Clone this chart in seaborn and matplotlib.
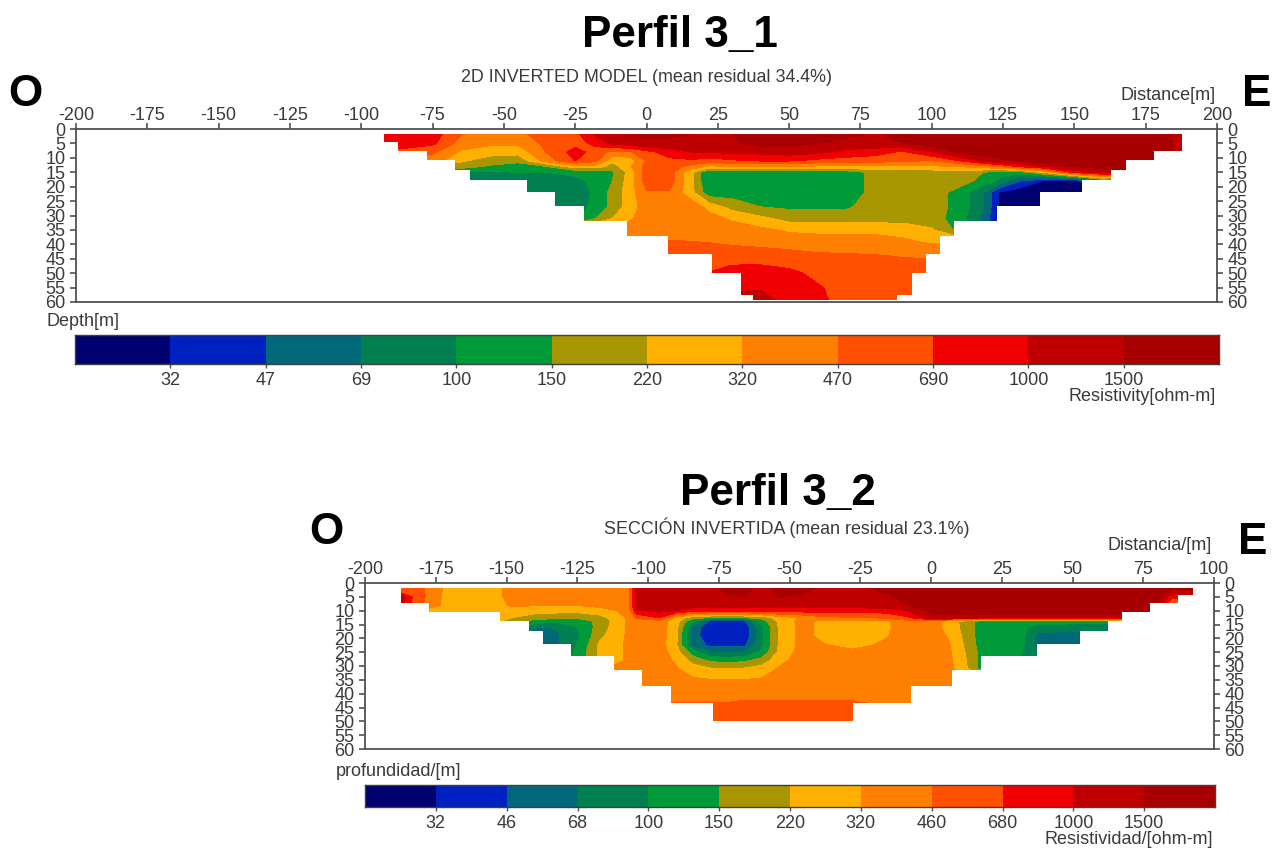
import numpy as np
import seaborn as sns
import matplotlib
matplotlib.use("Agg")
import matplotlib.pyplot as plt
from matplotlib.colors import ListedColormap
from matplotlib.patches import Polygon

# band colours shared by both sections
band_colors = ["#000070", "#0020C0", "#006878", "#008050", "#009A38", "#A89600",
               "#FFB000", "#FF8000", "#FF5000", "#F00000", "#C00000", "#A80000"]

levels_1 = [10, 32, 47, 69, 100, 150, 220, 320, 470, 690, 1000, 1500, 5000]
levels_2 = [10, 32, 46, 68, 100, 150, 220, 320, 460, 680, 1000, 1500, 5000]
cbar_labels_1 = ["32", "47", "69", "100", "150", "220", "320", "470", "690", "1000", "1500"]
cbar_labels_2 = ["32", "46", "68", "100", "150", "220", "320", "460", "680", "1000", "1500"]

# Perfil 3_1: resistivity read by eye, one list per depth
dist_1 = [-95, -85, -75, -65, -55, -45, -35, -25, -18, -12, -6, 0, 8, 16, 22, 30, 40, 50, 60, 70, 80,
          90, 100, 110, 118, 124, 130, 140, 150, 160, 170, 180, 190]
depth_1 = [1.7, 5, 8, 11, 13, 15, 18, 22, 27, 31, 35, 39, 44, 50, 55, 60]
r1_d01 = [600, 830, 830, 480, 400, 400, 650, 620, 1050, 1300, 1500, 1600, 1700, 1500, 1500, 1500, 1800, 1900, 1900, 1700, 1400, 1800, 1900, 1900, 1900, 1900, 1900, 1900, 1900, 1900, 1900, 1900, 1100]
r1_d05 = [830, 830, 750, 400, 350, 350, 520, 600, 750, 1100, 1200, 1400, 1300, 1300, 1300, 1400, 1700, 1700, 1500, 1300, 1300, 1500, 1800, 1900, 1900, 1900, 1900, 1900, 1900, 1900, 1900, 1900, 1100]
r1_d08 = [600, 600, 500, 300, 250, 250, 480, 800, 600, 420, 450, 600, 850, 1000, 1000, 1100, 1100, 1200, 1100, 900, 800, 650, 1000, 1700, 1900, 1900, 1900, 1900, 1900, 1900, 1900, 1900, 1100]
r1_d11 = [400, 400, 400, 230, 190, 170, 380, 700, 520, 250, 250, 480, 620, 650, 580, 650, 720, 720, 620, 580, 560, 500, 470, 700, 1100, 1400, 1600, 1900, 1900, 1900, 1900, 1900, 1900]
r1_d13 = [190, 190, 190, 190, 140, 120, 150, 280, 280, 180, 300, 550, 570, 400, 300, 310, 320, 320, 300, 300, 300, 290, 300, 330, 400, 500, 700, 1100, 1500, 1700, 1800, 1900, 1900]
r1_d15 = [90, 90, 90, 90, 95, 100, 100, 110, 110, 140, 250, 570, 570, 230, 100, 120, 120, 120, 120, 120, 170, 180, 180, 180, 150, 120, 120, 250, 800, 1200, 1500, 1900, 1900]
r1_d18 = [60, 60, 60, 60, 80, 85, 90, 90, 110, 150, 260, 560, 570, 230, 100, 120, 120, 120, 120, 120, 170, 190, 190, 180, 130, 90, 50, 30, 28, 100, 28, 28, 28]
r1_d22 = [75, 75, 75, 75, 75, 75, 85, 85, 105, 170, 265, 450, 450, 240, 115, 125, 125, 125, 125, 120, 170, 190, 190, 125, 70, 30, 26, 26, 26, 26, 26, 26, 26]
r1_d27 = [85, 85, 85, 85, 85, 85, 85, 85, 110, 170, 260, 390, 390, 400, 280, 190, 150, 140, 140, 140, 185, 190, 190, 125, 70, 30, 26, 26, 26, 26, 26, 26, 26]
r1_d31 = [90, 90, 90, 90, 90, 90, 90, 90, 145, 220, 300, 390, 390, 390, 370, 300, 240, 190, 185, 185, 185, 185, 180, 120, 60, 30, 26, 26, 26, 26, 26, 26, 26]
r1_d35 = [400] * 15 + [390, 350, 300, 290, 290, 290, 280, 230, 130, 60, 30, 26, 26, 26, 26, 26, 26, 26]
r1_d39 = [420] * 12 + [480, 470, 460, 440, 420, 400, 380, 380, 370, 340, 300] + [300] * 10
r1_d44 = [560] * 12 + [560, 570, 570, 560, 550, 530, 500, 490, 480, 460, 450] + [450] * 10
r1_d50 = [620] * 12 + [620, 620, 700, 830, 850, 760, 620, 600, 590, 580, 570] + [570] * 10
r1_d55 = [830] * 12 + [830, 830, 830, 950, 950, 850, 720, 590, 590, 580, 570] + [570] * 10
r1_d60 = [1150] * 12 + [1150, 1150, 1150, 1150, 1200, 900, 760, 600, 590, 580, 570] + [570] * 10
rows_1 = [r1_d01, r1_d05, r1_d08, r1_d11, r1_d13, r1_d15, r1_d18, r1_d22, r1_d27, r1_d31,
          r1_d35, r1_d39, r1_d44, r1_d50, r1_d55, r1_d60]
# stepped edge of the section
left_x_1 = [-92, -87, -77, -67, -62, -42, -32, -22, -7, 7.7, 23, 33, 37.5]
left_d_1 = [4.4, 7.6, 10.6, 14.2, 17.7, 22, 26.6, 32, 37, 43.4, 50, 57.6, 59.4]
right_x_1 = [187.7, 178, 168, 162.7, 152.7, 138, 122.8, 107.9, 103, 98, 93, 87.8]
right_d_1 = [7.5, 10.6, 14.2, 17.7, 22, 26.6, 32, 37, 43.4, 50, 57.6, 59.4]

# Perfil 3_2
dist_2 = [-190, -183, -177, -170, -155, -148, -140, -132, -124, -117, -107, -104, -96, -90, -84, -78, -72, -66,
          -60, -54, -46, -38, -28, -16, -8, 0, 6, 12, 18, 32, 38, 50, 65, 80, 85, 95]
depth_2 = [1.7, 5, 8, 10, 12.5, 13.8, 16, 19, 22.5, 25, 28, 31, 35, 39, 43, 46, 50]
r2_d01 = [400, 600, 400, 280, 270, 380, 380, 380, 380, 380, 400, 1250, 1300, 1300, 1300, 1300, 1700, 1700, 1300, 1700, 1800, 1400, 1350, 1700, 1800] + [1800] * 11
r2_d05 = [1800, 650, 400, 270, 270, 370, 370, 380, 380, 380, 400, 1250, 1300, 1300, 1300, 1300, 1400, 1500, 1300, 1500, 1400, 1300, 1350, 1400, 1700] + [1800] * 9 + [800, 800]
r2_d08 = [1800, 600, 380, 270, 265, 340, 330, 330, 330, 350, 400, 1250, 1250, 1250, 1220, 1220, 1220, 1220, 1220, 1220, 1220, 1220, 1250, 1300, 1500] + [1800] * 8 + [1500, 400, 400]
r2_d10 = [1800, 600, 270, 265, 260, 260, 260, 250, 250, 280, 350, 950, 1100, 1000] + [800] * 10 + [1000, 1600] + [1800] * 7 + [1500, 400, 400]
r2_d12 = [1800, 600, 265, 265, 265, 220, 180, 170, 170, 190, 340, 500, 700, 280, 180, 150, 150, 150, 170, 260, 330, 420, 450, 500, 650, 1400] + [1300] * 7 + [1300, 400, 400]
r2_d14 = [265, 265, 265, 265, 260, 170, 125, 110, 120, 170, 340, 380, 400, 260, 100, 42, 38, 42, 120, 230, 360, 290, 280, 300, 420, 430, 270, 195, 120, 120, 120, 120, 120, 120, 120, 120]
r2_d16 = [265, 265, 265, 265, 260, 150, 65, 70, 105, 180, 340, 340, 390, 250, 58, 34, 34, 34, 90, 220, 360, 290, 280, 300, 390, 390, 280, 195, 120, 110, 85, 80, 80, 80, 80, 80]
r2_d19 = [265, 265, 265, 265, 200, 120, 60, 65, 100, 200, 340, 340, 390, 240, 55, 34, 34, 34, 90, 220, 360, 290, 280, 310, 390, 390, 310, 200, 120, 115, 60, 57, 57, 57, 57, 57]
r2_d22 = [265, 265, 265, 265, 200, 120, 60, 65, 110, 240, 340, 340, 390, 230, 60, 42, 42, 42, 90, 220, 360, 330, 290, 340, 390, 390, 340, 210, 125, 110, 57, 57, 57, 57, 57, 57]
r2_d25 = [265, 265, 265, 265, 200, 120, 60, 70, 120, 240, 340, 340, 390, 260, 120, 68, 66, 68, 110, 230, 370, 380, 345, 390, 390, 390, 350, 220, 130, 100, 90, 90, 90, 90, 90, 90]
r2_d28 = [265, 265, 265, 265, 200, 120, 70, 90, 120, 240, 340, 340, 390, 300, 190, 140, 130, 140, 170, 280, 380, 390, 390, 390, 390, 390, 360, 230, 130, 100, 90, 90, 90, 90, 90, 90]
r2_d31 = [265, 265, 265, 265, 260, 260, 260, 260, 260, 300, 380, 390, 390, 330, 260, 230, 220, 230, 260, 330, 385, 390, 390, 390, 390, 390, 370, 240, 130, 100, 90, 90, 90, 90, 90, 90]
r2_d35 = [390] * 13 + [370, 340, 325, 325, 325, 330, 360] + [390] * 16
r2_d39 = [390] * 36
r2_d43 = [455] * 17 + [475] * 6 + [400] + [390] * 12
r2_d46 = [570] * 36
r2_d50 = [570] * 36
rows_2 = [r2_d01, r2_d05, r2_d08, r2_d10, r2_d12, r2_d14, r2_d16, r2_d19, r2_d22, r2_d25, r2_d28,
          r2_d31, r2_d35, r2_d39, r2_d43, r2_d46, r2_d50]
left_x_2 = [-187.3, -177.3, -152.3, -142, -137, -127.3, -112, -102, -92, -77]
left_d_2 = [7.4, 10.4, 13.7, 17.5, 22, 26.4, 31.4, 37.2, 43.4, 50]
right_x_2 = [92.7, 87.4, 77.4, 67.4, 62.7, 52.7, 37.5, 17.7, 7.5, -7.2, -27.4]
right_d_2 = [4.4, 7.4, 10.4, 13.7, 17.4, 22, 26.4, 31.5, 37.2, 43.4, 50]

depth_ticks = list(range(0, 65, 5))
text_col = "#3a3a3a"
line_col = "#505050"
W, H = 1272, 848

sns.set_theme(style="white")
plt.rcParams["font.family"] = ["Liberation Sans", "DejaVu Sans"]
plt.rcParams["axes.unicode_minus"] = False
palette = sns.color_palette(band_colors)
band_cmap = ListedColormap(palette)

fig = plt.figure(figsize=(W / 100, H / 100), dpi=100)


def px_axes(x0, y0, x1, y1):
    return fig.add_axes([x0 / W, 1 - y1 / H, (x1 - x0) / W, (y1 - y0) / H])


def px_text(x, y, s, **kw):
    kw.setdefault("color", text_col)
    kw.setdefault("va", "center")
    fig.text(x / W, 1 - y / H, s, **kw)


def outline(left_x, left_d, right_x, right_d, top):
    # walk down the left steps, along the bottom, up the right steps
    pts = [(left_x[0], top)]
    for i in range(len(left_x)):
        pts.append((left_x[i], left_d[i]))
        if i + 1 < len(left_x):
            pts.append((left_x[i + 1], left_d[i]))
    pts.append((right_x[-1], right_d[-1]))
    for i in range(len(right_x) - 1, 0, -1):
        pts.append((right_x[i], right_d[i - 1]))
        pts.append((right_x[i - 1], right_d[i - 1]))
    pts.append((right_x[0], top))
    return pts


def section(box, xlim, xticks, dist, depth, rows, levels, edge):
    ax = px_axes(*box)
    z = np.log10(np.array(rows, dtype=float))
    cs = ax.contourf(dist, depth, z, levels=np.log10(levels), colors=palette)
    clip = Polygon(outline(*edge, depth[0]), closed=True, transform=ax.transData, fc="none", ec="none")
    ax.add_patch(clip)
    cs.set_clip_path(clip)
    ax.set_xlim(*xlim)
    ax.set_ylim(60, 0)
    ax.set_xticks(xticks)
    ax.set_yticks(depth_ticks)
    ax.xaxis.tick_top()
    ax.tick_params(axis="x", top=True, bottom=False, length=4, width=1.2, color=line_col,
                   labelsize=13, labelcolor=text_col, pad=-0.5)
    ax.tick_params(axis="y", left=True, right=True, labelleft=True, labelright=True, length=4, width=1.2,
                   color=line_col, labelsize=13, labelcolor=text_col, pad=3.5)
    for s in ax.spines.values():
        s.set_color(line_col)
        s.set_linewidth(1.3)
    return ax


def band_bar(box, labels):
    ax = px_axes(*box)
    sns.heatmap(np.arange(12).reshape(1, 12), cmap=band_cmap, cbar=False, ax=ax,
                xticklabels=False, yticklabels=False, vmin=-0.5, vmax=11.5)
    ax.set_xticks(range(1, 12))
    ax.set_xticklabels(labels)
    ax.tick_params(axis="x", bottom=True, length=3, width=1, color=line_col, labelsize=13,
                   labelcolor=text_col, pad=3, rotation=0)
    for s in ax.spines.values():
        s.set_visible(True)
        s.set_color("#404040")
        s.set_linewidth(1)
    return ax


section((76, 129, 1217, 302), (-200, 200), list(range(-200, 225, 25)), dist_1, depth_1, rows_1, levels_1,
        (left_x_1, left_d_1, right_x_1, right_d_1))
section((365, 583, 1214, 749), (-200, 100), list(range(-200, 125, 25)), dist_2, depth_2, rows_2, levels_2,
        (left_x_2, left_d_2, right_x_2, right_d_2))
band_bar((75, 335, 1219, 364), cbar_labels_1)
band_bar((365, 785, 1215, 807), cbar_labels_2)

big = dict(fontsize=31.7, fontweight="bold", color="black", ha="center")
px_text(680, 36, "Perfil 3_1", **big)
px_text(778, 493, "Perfil 3_2", **big)
px_text(25, 94, "O", **big)
px_text(1257, 94, "E", **big)
px_text(326, 533, "O", **big)
px_text(1253, 543, "E", **big)

px_text(646, 78, "2D INVERTED MODEL (mean residual 34.4%)", fontsize=12.9, ha="center")
px_text(787, 528, "SECCIÓN INVERTIDA (mean residual 23.1%)", fontsize=12.9, ha="center")
px_text(1216, 95, "Distance[m]", fontsize=13, ha="right")
px_text(1212, 546, "Distancia/[m]", fontsize=13, ha="right")
px_text(46, 322, "Depth[m]", fontsize=13, ha="left")
px_text(336, 771, "profundidad/[m]", fontsize=13, ha="left")
px_text(1216, 396, "Resistivity[ohm-m]", fontsize=13, ha="right")
px_text(1213, 839, "Resistividad/[ohm-m]", fontsize=13, ha="right")

fig.savefig("out.png", dpi=100)
